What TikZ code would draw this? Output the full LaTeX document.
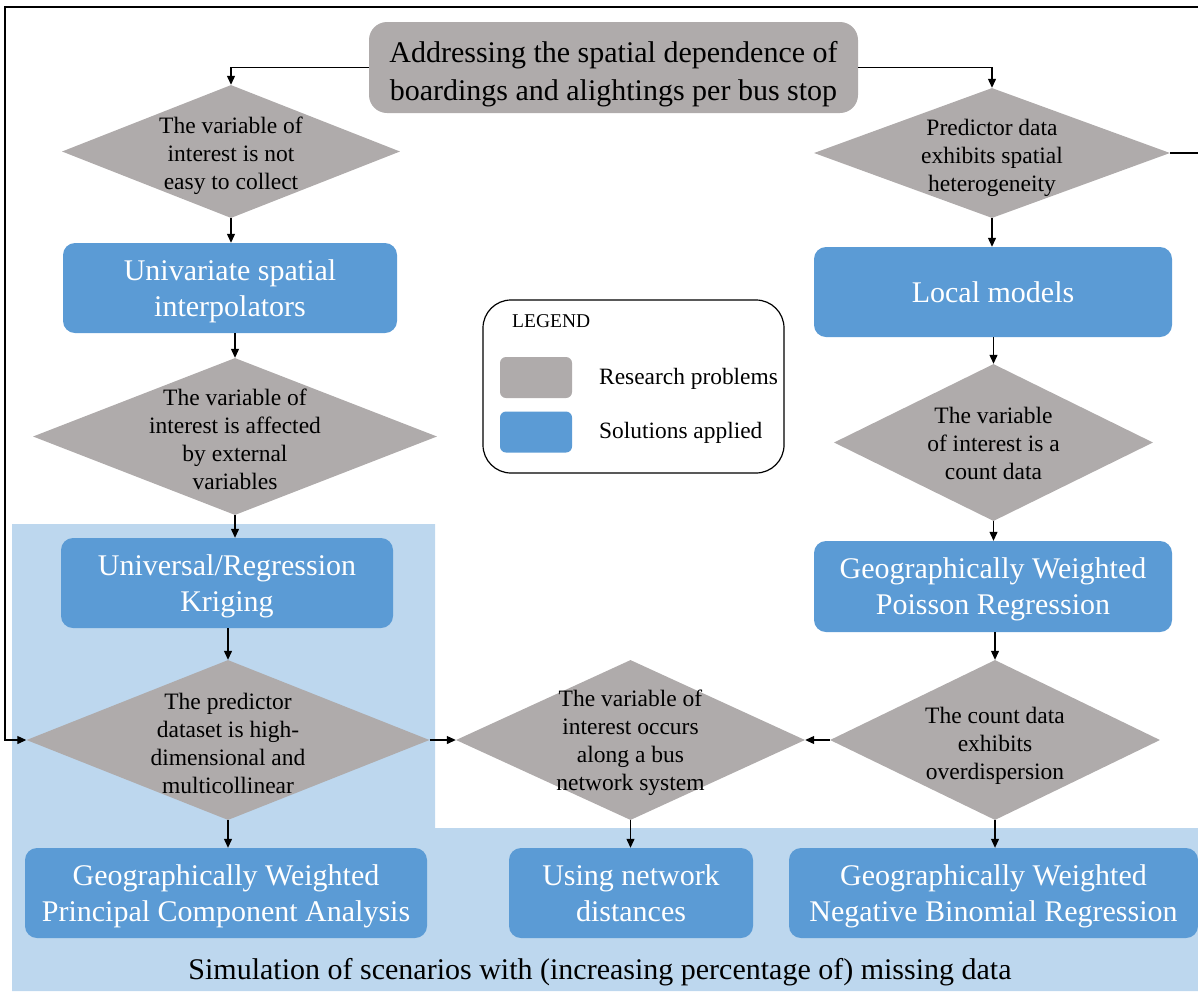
\documentclass[tikz,border=0pt]{standalone}
\usepackage{fontspec}
\newfontfamily\lserif{Liberation Serif}
\usetikzlibrary{shapes.geometric,arrows.meta}
\definecolor{probgray}{HTML}{AFABAB}
\definecolor{solblue}{HTML}{5B9BD5}
\definecolor{bgblue}{HTML}{BDD7EE}
\begin{document}
\begin{tikzpicture}[x=1pt,y=-1pt,
  dia/.style={diamond, fill=probgray, inner sep=0pt, draw=none},
  dtext/.style={align=center, font=\lserif\fontsize{23.5}{28}\selectfont, inner sep=0pt},
  sol/.style={rounded corners=12pt, fill=solblue, text=white, align=center, font=\lserif\fontsize{30}{36}\selectfont, inner sep=0pt, text depth=-4pt},
  arr/.style={-{Triangle[length=9pt,width=8pt]}, line width=1.2pt, black},
  legtxt/.style={anchor=west, font=\lserif\fontsize{23.4}{26}\selectfont, inner sep=0pt},
  swatch/.style={rounded corners=6pt, minimum width=72pt, minimum height=41pt, inner sep=0pt},
]
\useasboundingbox (0,0) rectangle (1198,991);
% background region
\fill[bgblue] (12,524) -- (435,524) -- (435,828) -- (1198,828) -- (1198,991) -- (12,991) -- cycle;

% title
\node[rounded corners=18pt, fill=probgray, inner sep=0pt, minimum width=489pt, minimum height=91pt] (title) at (613.5,67.5) {};
\node[align=center, inner sep=0pt, font=\lserif\fontsize{30}{38}\selectfont] (titlet) at (613.5,74) {Addressing the spatial dependence of\\boardings and alightings per bus stop};

% left column
\node[dia, minimum width=338pt, minimum height=133pt] (d1) at (231,151.5) {};
\node[dtext] (d1t) at (231,156) {The variable of\\interest is not\\easy to collect};
\node[sol, minimum width=334pt, minimum height=90pt] (b1) at (230,288) {Univariate spatial\\interpolators};
\node[dia, minimum width=404pt, minimum height=157pt] (d2) at (235,436.5) {};
\node[dtext] (d2t) at (235,439) {The variable of\\interest is affected\\by external\\variables};
\node[sol, minimum width=332pt, minimum height=90pt] (b2) at (227,583) {Universal/Regression\\Kriging};
\node[dia, minimum width=403pt, minimum height=160pt] (d3) at (228,740) {};
\node[dtext] (d3t) at (228,743) {The predictor\\dataset is high-\\dimensional and\\multicollinear};

% middle
\node[dia, minimum width=349pt, minimum height=160pt] (d4) at (630.5,740) {};
\node[dtext] (d4t) at (630.5,743) {The variable of\\interest occurs\\along a bus\\network system};

% right column
\node[dia, minimum width=356pt, minimum height=130pt] (r1) at (992,153) {};
\node[dtext] (r1t) at (992,158) {Predictor data\\exhibits spatial\\heterogeneity};
\node[sol, minimum width=358pt, minimum height=90pt] (rb1) at (993,292) {Local models};
\node[dia, minimum width=319pt, minimum height=157pt] (r2) at (993.5,442.5) {};
\node[dtext] (r2t) at (993.5,443) {The variable\\of interest is a\\count data};
\node[sol, minimum width=358pt, minimum height=91pt] (rb2) at (993,586.5) {Geographically Weighted\\Poisson Regression};
\node[dia, minimum width=330pt, minimum height=160pt] (d5) at (995,740) {};
\node[dtext] (d5t) at (995,746) {The count data\\exhibits\\overdispersion};

% bottom solutions
\node[sol, minimum width=402pt, minimum height=90pt] (bb1) at (226,893) {Geographically Weighted\\Principal Component Analysis};
\node[sol, minimum width=244pt, minimum height=90pt] (bb2) at (631,893) {Using network\\distances};
\node[sol, minimum width=409pt, minimum height=90pt] (bb3) at (993.5,893) {Geographically Weighted\\Negative Binomial Regression};

\node[font=\lserif\fontsize{30}{34}\selectfont, inner sep=0pt] (sim) at (600,972) {Simulation of scenarios with (increasing percentage of) missing data};

% legend
\node[draw, line width=1.2pt, rounded corners=28pt, minimum width=301pt, minimum height=173pt] (legend) at (633.5,386.5) {};
\node[anchor=west, font=\lserif\fontsize{19.5}{22}\selectfont, inner sep=0pt] (legtitle) at (512,321) {LEGEND};
\node[swatch, fill=probgray] (swg) at (536,377.5) {};
\node[swatch, fill=solblue] (swb) at (536,432) {};
\node[legtxt] (lgg) at (599,379) {Research problems};
\node[legtxt] (lgb) at (599,433) {Solutions applied};

% connectors
\draw[arr] (title.west) -| (d1.north);
\draw[arr] (title.east) -| (r1.north);
\draw[arr] (d1.south) -- (d1.south |- b1.north);
\draw[arr] (d2.north |- b1.south) -- (d2.north);
\draw[arr] (d2.south) -- (d2.south |- b2.north);
\draw[arr] (d3.north |- b2.south) -- (d3.north);
\draw[arr] (d3.south) -- (d3.south |- bb1.north);
\draw[arr] (d3.east) -- (d4.west);
\draw[arr] (d5.west) -- (d4.east);
\draw[arr] (d4.south) -- (d4.south |- bb2.north);
\draw[arr] (d5.south) -- (d5.south |- bb3.north);
\draw[arr] (r1.south) -- (r1.south |- rb1.north);
\draw[arr] (r2.north |- rb1.south) -- (r2.north);
\draw[arr] (r2.south) -- (r2.south |- rb2.north);
\draw[arr] (d5.north |- rb2.south) -- (d5.north);
\coordinate (cTR) at (1215,7);
\coordinate (cTL) at (5,7);
\draw[arr] (r1.east) -| (cTR) -- (cTL) |- (d3.west);
\end{tikzpicture}
\end{document}
